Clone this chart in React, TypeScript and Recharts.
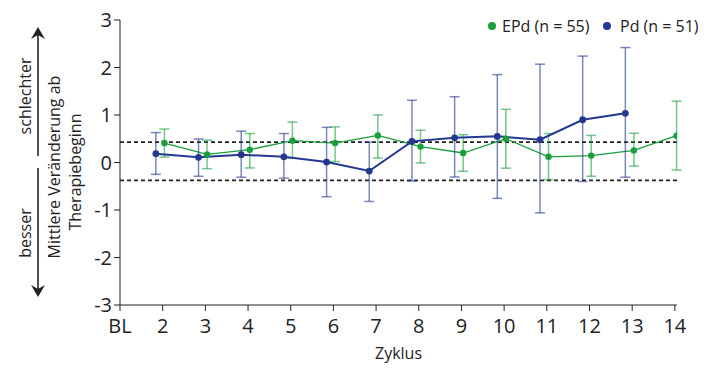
import { ComposedChart, Line, XAxis, YAxis, ErrorBar, ReferenceLine } from 'recharts'

const cycles = [2, 3, 4, 5, 6, 7, 8, 9, 10, 11, 12, 13, 14]
const xTicks = [1, ...cycles]
const yTicks = [-3, -2, -1, 0, 1, 2, 3]

// EPd (n = 55)
const epdMean = [0.41, 0.17, 0.27, 0.46, 0.41, 0.57, 0.335, 0.2, 0.5, 0.12, 0.145, 0.255, 0.565]
const epdLow = [0.115, -0.13, -0.115, 0.09, 0.02, 0.095, -0.01, -0.185, -0.12, -0.36, -0.29, -0.075, -0.16]
const epdHigh = [0.705, 0.47, 0.61, 0.85, 0.75, 1.0, 0.68, 0.585, 1.12, 0.61, 0.57, 0.615, 1.29]

// Pd (n = 51)
const pdCycles = [2, 3, 4, 5, 6, 7, 8, 9, 10, 11, 12, 13]
const pdMean = [0.185, 0.11, 0.165, 0.12, 0.01, -0.18, 0.445, 0.52, 0.55, 0.48, 0.9, 1.035]
const pdLow = [-0.25, -0.29, -0.31, -0.33, -0.72, -0.82, -0.39, -0.305, -0.755, -1.06, -0.4, -0.31]
const pdHigh = [0.63, 0.495, 0.66, 0.61, 0.74, 0.43, 1.31, 1.385, 1.85, 2.07, 2.24, 2.42]

const thresholds = [0.43, -0.375]

const GREEN = '#1a9e3c'
const BLUE = '#24388f'
const FONT = '"Open Sans", sans-serif'

const epdData = cycles.map((c, i) => ({
  x: c + 0.04,
  y: epdMean[i],
  err: [epdMean[i] - epdLow[i], epdHigh[i] - epdMean[i]],
}))

const pdData = pdCycles.map((c, i) => ({
  x: c - 0.16,
  y: pdMean[i],
  err: [pdMean[i] - pdLow[i], pdHigh[i] - pdMean[i]],
}))

function SideLabels() {
  return (
    <svg
      width={720}
      height={371}
      style={{ position: 'absolute', left: 0, top: 0, pointerEvents: 'none' }}
      fontFamily={FONT}
    >
      {/* arrows */}
      <line x1={38} y1={30} x2={38} y2={156} stroke="#222" strokeWidth={1.6} />
      <path d="M38,27 L31,39 L38,35 L45,39 Z" fill="#222" />
      <line x1={38} y1={168} x2={38} y2={294} stroke="#222" strokeWidth={1.6} />
      <path d="M38,297 L31,285 L38,289 L45,285 Z" fill="#222" />
      <text x={25} y={96} transform="rotate(-90 25 96)" textAnchor="middle" dominantBaseline="central" fontSize={16} fill="#222">
        schlechter
      </text>
      <text x={25} y={233} transform="rotate(-90 25 233)" textAnchor="middle" dominantBaseline="central" fontSize={16} fill="#222">
        besser
      </text>
      <text x={54} y={167} transform="rotate(-90 54 167)" textAnchor="middle" dominantBaseline="central" fontSize={16} fill="#222">
        Mittlere Veränderung ab
      </text>
      <text x={75} y={172} transform="rotate(-90 75 172)" textAnchor="middle" dominantBaseline="central" fontSize={16} fill="#222">
        Therapiebeginn
      </text>
      {/* legend */}
      <circle cx={492} cy={26} r={4} fill={GREEN} />
      <text x={502} y={26} dominantBaseline="central" fontSize={16} fill="#222">
        EPd (n = 55)
      </text>
      <circle cx={607} cy={26} r={4} fill={BLUE} />
      <text x={620} y={26} dominantBaseline="central" fontSize={16} fill="#222">
        Pd (n = 51)
      </text>
    </svg>
  )
}

export default function App() {
  return (
    <div style={{ position: 'relative', width: 720, height: 371, background: '#fff' }}>
      <style>{'body{margin:0}'}</style>
      <ComposedChart
        width={720}
        height={371}
        margin={{ top: 20, right: 43, left: 0, bottom: 0 }}
        style={{ fontFamily: FONT }}
      >
        <XAxis
          dataKey="x"
          type="number"
          domain={[1, 14.05]}
          ticks={xTicks}
          allowDataOverflow
          tickFormatter={(v) => (v === 1 ? 'BL' : `${v}`)}
          stroke="#222"
          tick={{ fill: '#222', fontSize: 20 }}
          tickSize={6}
          tickMargin={8}
          height={66}
          label={{ value: 'Zyklus', position: 'insideBottom', offset: 12, fill: '#222', fontSize: 16 }}
        />
        <YAxis
          type="number"
          domain={[-3, 3]}
          ticks={yTicks}
          stroke="#222"
          tick={{ fill: '#222', fontSize: 20 }}
          tickSize={6}
          width={120}
        />
        {thresholds.map((t) => (
          <ReferenceLine key={t} y={t} stroke="#222" strokeWidth={1.8} strokeDasharray="4 3" />
        ))}
        <Line
          data={epdData}
          dataKey="y"
          name="EPd (n = 55)"
          stroke={GREEN}
          strokeWidth={1.3}
          dot={{ r: 3.2, fill: GREEN, stroke: GREEN, strokeWidth: 0 }}
          activeDot={false}
          isAnimationActive={false}
        >
          <ErrorBar dataKey="err" width={5} stroke={GREEN} strokeOpacity={0.6} strokeWidth={1.5} />
        </Line>
        <Line
          data={pdData}
          dataKey="y"
          name="Pd (n = 51)"
          stroke={BLUE}
          strokeWidth={2}
          dot={{ r: 3.4, fill: BLUE, stroke: BLUE, strokeWidth: 0 }}
          activeDot={false}
          isAnimationActive={false}
        >
          <ErrorBar dataKey="err" width={5} stroke={BLUE} strokeOpacity={0.6} strokeWidth={1.5} />
        </Line>
      </ComposedChart>
      <SideLabels />
    </div>
  )
}
